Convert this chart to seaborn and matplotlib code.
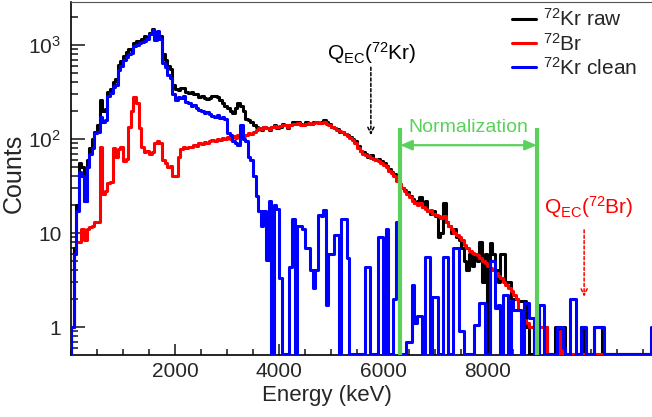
import numpy as np
import pandas as pd
import matplotlib
matplotlib.use("Agg")
import matplotlib.pyplot as plt
from matplotlib.ticker import FixedLocator, MultipleLocator, LogLocator, NullFormatter
import seaborn as sns

# 50 keV bins starting at 0 keV, counts (0 = empty bin)
bin_width = 50

kr_raw = [
    1, 7, 20, 55, 50, 22, 60, 80, 100, 120,
    140, 260, 200, 210, 320, 340, 400, 430, 620, 680,
    760, 850, 900, 880, 1050, 1100, 1080, 1150, 1250, 1200,
    1350, 1480, 1200, 1350, 1250, 800, 700, 600, 560, 380,
    340, 330, 350, 345, 320, 310, 320, 300, 305, 280,
    290, 270, 265, 275, 290, 285, 280, 260, 240, 225,
    215, 200, 190, 215, 240, 225, 200, 165, 160, 150,
    140, 135, 130, 125, 135, 130, 125, 135, 140, 130,
    135, 145, 140, 130, 140, 150, 145, 150, 145, 140,
    150, 148, 145, 150, 152, 148, 150, 160, 150, 145,
    135, 130, 128, 120, 118, 112, 110, 105, 100, 95,
    85, 75, 72, 70, 65, 68, 62, 60, 62, 58,
    55, 52, 48, 45, 42, 38, 33, 30, 29, 27,
    25, 23, 21, 22, 24, 19, 22, 17, 16, 17,
    15, 9, 10, 21, 13, 12, 10, 11, 9, 8.5,
    7, 5, 4, 6, 4.5, 6, 5, 8, 3, 6,
    0, 7.8, 6, 4, 3, 6, 6, 3, 3, 2,
    2, 2, 1.9, 1.9, 1.9, 1, 0, 0, 1, 1,
    1, 1, 1, 0, 0, 0, 1, 1, 0, 1,
    0, 0, 0, 0, 0, 0, 1, 0, 0, 0,
    0, 1, 1, 1, 0, 0, 0, 0, 0, 0,
    0, 0, 0, 0, 0, 0, 0, 0, 0, 0,
    0, 0, 0, 0,
]

br72 = [
    1, 6, 8, 8, 11, 8.5, 11, 11.5, 12, 13,
    13, 82, 26, 28, 34, 35, 80, 64, 78, 83,
    58, 62, 134, 200, 280, 240, 130, 82, 73, 75,
    70, 72, 90, 95, 90, 60, 55, 50, 52, 40,
    40, 64, 78, 82, 80, 83, 82, 86, 85, 90,
    88, 92, 90, 95, 98, 95, 100, 97, 103, 100,
    105, 100, 108, 103, 110, 112, 108, 110, 115, 112,
    118, 125, 130, 128, 135, 130, 128, 133, 138, 135,
    138, 140, 140, 135, 142, 145, 145, 148, 142, 140,
    145, 147, 145, 148, 150, 148, 147, 150, 145, 140,
    135, 130, 125, 122, 118, 112, 108, 102, 98, 90,
    80, 75, 70, 68, 66, 63, 62, 60, 58, 56,
    53, 50, 46, 43, 40, 36, 33, 30, 28, 26,
    24, 22, 21, 20, 21, 19, 18, 17, 17.5, 16,
    15.5, 15, 14.5, 15, 13, 12, 11, 10, 9.5, 9,
    8.5, 7.5, 7, 6.5, 6.2, 6, 5.8, 5.4, 5, 4.8,
    4.5, 4.2, 4, 3.8, 3.5, 3.3, 3, 2.8, 2.6, 2.4,
    2.2, 2, 1.5, 1.4, 1.2, 1.1, 1, 1, 1, 1.5,
    1, 1, 1, 0, 0, 0, 0, 0, 0.9, 0,
    0, 0, 0, 0, 0, 0, 0, 0, 0, 0,
    0, 0, 0, 0, 0, 0, 0, 0, 0, 0,
    0, 0, 0, 0, 0, 0, 0, 0, 0, 0,
    0, 0, 0, 0,
]

kr_clean = [
    1, 6, 17, 45, 40, 22, 50, 70, 80, 115,
    120, 170, 150, 160, 290, 310, 360, 380, 540, 600,
    700, 750, 800, 820, 980, 1000, 1050, 1080, 1100, 1150,
    1300, 1450, 1130, 1400, 1150, 650, 580, 480, 450, 300,
    260, 280, 270, 285, 250, 240, 225, 230, 215, 205,
    200, 190, 195, 185, 175, 170, 180, 168, 170, 165,
    115, 110, 95, 90, 86, 141, 100, 95, 64, 60,
    40, 25, 17, 12, 17, 5.2, 22, 0, 20, 18,
    3.3, 0, 0, 0, 4.3, 14, 0, 12, 12, 11,
    7, 7, 4, 2.6, 4, 15.5, 15, 17.5, 1.7, 6,
    6, 9.5, 9.5, 0, 14, 14, 5.4, 0, 0, 0,
    0, 0, 0, 4.3, 4.3, 0, 0, 0, 9, 9,
    0, 11, 0, 0, 2, 13, 0, 0, 0, 0.7,
    0.7, 2.8, 1.1, 1.3, 1.3, 0, 5.5, 5.5, 0, 2.1,
    2.1, 0, 0, 5.5, 5.5, 0, 0, 7, 7, 0.9,
    0.9, 0, 0, 0, 0, 1.05, 1.05, 1.8, 1.8, 0,
    0, 5.1, 5.1, 1.6, 1.7, 0, 2.2, 2.2, 0, 1.9,
    1.5, 1.5, 1.5, 0, 1.8, 1.8, 1.25, 1.25, 0, 0,
    1.7, 1.7, 0, 0, 0, 0, 0, 1, 1, 0.6,
    0, 0, 2, 2, 0, 0, 1, 1, 0, 0,
    0, 1, 1, 1, 1, 0, 0, 0, 0, 0,
    0, 0, 0, 0, 0, 0, 0, 0, 0, 0,
    0, 0, 0, 1,
]

x_ticks = [2000, 4000, 6000, 8000]
y_ticks = [1, 10, 100, 1000]
y_tick_labels = ["1", "10", "10$^2$", "10$^3$"]
norm_range = [6330, 8955]
qec_kr = 5765
qec_br = 9865

sns.set_style("ticks")
plt.rcParams["font.family"] = ["Liberation Sans", "DejaVu Sans"]
plt.rcParams["mathtext.fontset"] = "custom"
plt.rcParams["mathtext.rm"] = "Liberation Sans"
plt.rcParams["mathtext.it"] = "Liberation Sans:italic"
plt.rcParams["mathtext.bf"] = "Liberation Sans:bold"

ymin, ymax = 0.504, 2870
xmin, xmax = 0, 11170
floor = ymin * 1.035  # where empty bins are drawn
green = "#5bd15b"

fig = plt.figure(figsize=(6.52, 4.17), dpi=100)
ax = fig.add_axes([71 / 652, 62 / 417, 581 / 652, 353 / 417])
ax.set_yscale("log")


def steps(vals):
    # histogram outline, empty bins sit on the bottom of the frame
    v = np.clip(np.asarray(vals, dtype=float), floor, None)
    edges = np.arange(len(v) + 1) * bin_width
    x = np.concatenate([[0], edges])
    y = np.concatenate([[floor], v, [v[-1]]])
    return pd.DataFrame({"E": x, "counts": y})


series = [
    (kr_raw, "black", r"$^{72}$Kr raw"),
    (br72, "#ff0000", r"$^{72}$Br"),
    (kr_clean, "#0000ff", r"$^{72}$Kr clean"),
]
for i, (vals, col, lab) in enumerate(series):
    sns.lineplot(data=steps(vals), x="E", y="counts", drawstyle="steps-post",
                 estimator=None, sort=False, color=col, lw=2.2, label=lab,
                 zorder=2 + i, ax=ax)

# normalization window
ax.vlines(norm_range, ymin, 131, color=green, lw=3, zorder=6)
ax.annotate("", xy=(norm_range[0], 86), xytext=(norm_range[1], 86),
            arrowprops=dict(arrowstyle="<|-|>,head_length=0.7,head_width=0.3",
                            color=green, lw=1.6, shrinkA=0, shrinkB=0), zorder=6)
ax.text(sum(norm_range) / 2, 119, "Normalization", color=green, fontsize=14,
        ha="center", va="baseline", zorder=6)

# Q values
ax.text(5790, 690, r"Q$_{\rm EC}$($^{72}$Kr)", color="black", fontsize=15,
        ha="center", va="baseline")
ax.annotate("", xy=(qec_kr, 110), xytext=(qec_kr, 580),
            arrowprops=dict(arrowstyle="->,head_length=0.45,head_width=0.22",
                            color="black", lw=1.1, ls=(0, (2, 1.5)),
                            shrinkA=0, shrinkB=0))
ax.text(9950, 15.9, r"Q$_{\rm EC}$($^{72}$Br)", color="#ff0000", fontsize=15,
        ha="center", va="baseline")
ax.annotate("", xy=(qec_br, 2.1), xytext=(qec_br, 10.8),
            arrowprops=dict(arrowstyle="->,head_length=0.45,head_width=0.22",
                            color="#ff0000", lw=1.1, ls=(0, (2, 1.5)),
                            shrinkA=0, shrinkB=0))

ax.set_xlim(xmin, xmax)
ax.set_ylim(ymin, ymax)
ax.xaxis.set_major_locator(FixedLocator(x_ticks))
ax.xaxis.set_minor_locator(MultipleLocator(500))
ax.yaxis.set_major_locator(FixedLocator(y_ticks))
ax.set_yticklabels(y_tick_labels)
ax.yaxis.set_minor_locator(LogLocator(base=10, subs=np.arange(2, 10)))
ax.yaxis.set_minor_formatter(NullFormatter())
ax.tick_params(axis="x", which="major", direction="in", length=8, width=1.2,
               labelsize=15, pad=5)
ax.tick_params(axis="x", which="minor", direction="in", length=4, width=1.2)
ax.tick_params(axis="y", which="major", direction="in", length=10, width=1.2,
               labelsize=15, pad=7)
ax.tick_params(axis="y", which="minor", direction="in", length=5, width=1.2)

ax.spines["right"].set_visible(False)
ax.spines["top"].set_color("#555555")
for s in ["left", "bottom"]:
    ax.spines[s].set_linewidth(1.2)
    ax.spines[s].set_color("black")

ax.set_xlabel("Energy (keV)", fontsize=16)
ax.set_ylabel("Counts", fontsize=18)
ax.xaxis.set_label_coords(0.441, -0.085)
ax.yaxis.set_label_coords(-0.078, 0.515)

ax.legend(loc="upper left", bbox_to_anchor=((512 - 71) / 581, (355 - 8) / 353),
          frameon=False, fontsize=15, handlelength=1.15, handletextpad=0.35,
          labelspacing=0.12, borderpad=0, borderaxespad=0)

fig.savefig("out.png", dpi=100)
